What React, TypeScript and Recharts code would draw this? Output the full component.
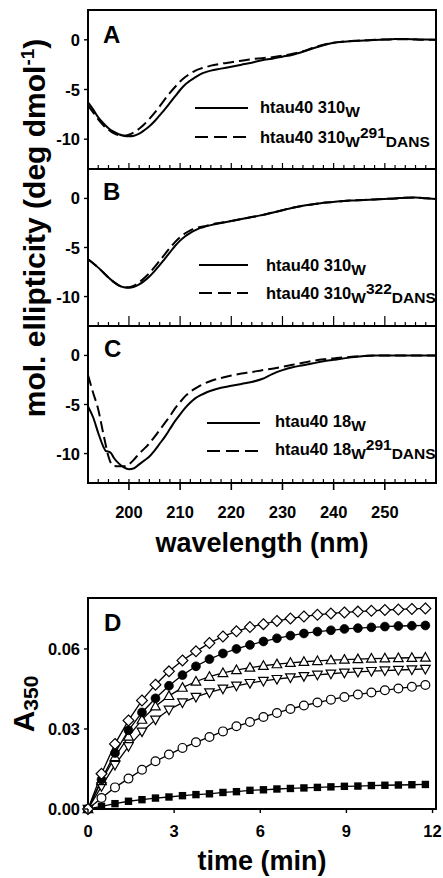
import React from 'react';
import { LineChart, Line, XAxis, YAxis, ReferenceArea } from 'recharts';

const FONT = "'Liberation Sans', Arial, Helvetica, sans-serif";
const W = 443;
const H = 878;

// ---------- CD spectra (panels A, B, C) ----------
const wavelengthsAB = [192, 193, 194, 195, 196, 197, 198, 199, 200, 201, 202, 203, 204, 205, 206, 207, 208, 209, 210, 211, 212, 213, 214, 215, 216,
  218, 220, 222, 224, 226, 228, 230, 232, 234, 236, 238, 240, 242, 244, 246, 248, 250, 252, 254, 256, 258, 260];

const panelA_310W = [-6.3, -7.0, -7.8, -8.4, -8.9, -9.25, -9.5, -9.65, -9.7, -9.65, -9.45, -9.1, -8.7, -8.2, -7.6, -7.0, -6.35, -5.7, -5.05, -4.5, -4.1, -3.75, -3.45, -3.25, -3.1,
  -2.9, -2.7, -2.5, -2.3, -2.05, -1.9, -1.7, -1.5, -1.2, -0.85, -0.55, -0.3, -0.2, -0.12, -0.08, -0.02, 0.02, 0.07, 0.08, 0.05, 0.02, 0];
const panelA_310W291DANS = [-6.6, -7.3, -8.0, -8.6, -9.05, -9.4, -9.6, -9.65, -9.55, -9.3, -8.95, -8.5, -7.95, -7.35, -6.7, -6.0, -5.35, -4.75, -4.2, -3.75, -3.4, -3.1, -2.9, -2.75, -2.6,
  -2.4, -2.25, -2.1, -1.95, -1.85, -1.75, -1.6, -1.4, -1.15, -0.8, -0.5, -0.3, -0.18, -0.1, -0.05, 0, 0.03, 0.05, 0.05, 0.03, 0, 0];

const panelB_310W = [-6.2, -6.6, -7.05, -7.55, -8.05, -8.5, -8.85, -9.05, -9.1, -9.0, -8.75, -8.4, -7.95, -7.4, -6.8, -6.15, -5.5, -4.85, -4.3, -3.85, -3.5, -3.22, -3.0, -2.85, -2.72,
  -2.5, -2.3, -2.1, -1.9, -1.7, -1.45, -1.2, -0.95, -0.75, -0.6, -0.45, -0.35, -0.25, -0.2, -0.15, -0.1, -0.05, 0, 0.08, 0.1, 0.02, -0.05];
const panelB_310W322DANS = [-6.2, -6.6, -7.05, -7.55, -8.05, -8.5, -8.85, -9.05, -9.05, -8.9, -8.55, -8.1, -7.6, -7.0, -6.35, -5.7, -5.05, -4.45, -3.95, -3.55, -3.25, -3.05, -2.9, -2.8, -2.65,
  -2.48, -2.3, -2.1, -1.9, -1.7, -1.45, -1.2, -0.95, -0.75, -0.6, -0.45, -0.35, -0.25, -0.2, -0.15, -0.1, -0.05, 0, 0.07, 0.09, 0.02, -0.05];

const wavelengthsC = [192, 193, 194, 195, 195.5, 196, 196.5, 197, 198, 199, 200, 201, 202, 203, 204, 205, 206, 207, 208, 209, 210, 211, 212, 213, 214, 215, 216,
  218, 220, 222, 224, 226, 228, 230, 232, 234, 236, 238, 240, 242, 244, 246, 248, 250, 252, 254, 256, 258, 260];

const panelC_18W = [-5.2, -6.3, -7.9, -9.3, -9.75, -9.8, -9.95, -10.4, -11.0, -11.4, -11.6, -11.5, -11.1, -10.7, -10.3, -9.7, -9.0, -8.3, -7.5, -6.7, -6.0, -5.35, -4.8, -4.35, -4.05, -3.8, -3.6,
  -3.3, -3.1, -2.9, -2.7, -2.4, -1.9, -1.5, -1.2, -1.0, -0.8, -0.6, -0.45, -0.3, -0.15, -0.05, 0, 0, 0, 0, 0, 0, 0];
const panelC_18W291DANS = [-2.0, -3.8, -5.5, -8.0, -9.2, -10.3, -11.0, -11.25, -11.3, -11.3, -11.1, -10.6, -10.0, -9.5, -8.95, -8.3, -7.6, -6.9, -6.2, -5.4, -4.75, -4.15, -3.7, -3.35, -3.05, -2.8, -2.6,
  -2.3, -2.05, -1.85, -1.7, -1.5, -1.35, -1.15, -0.95, -0.75, -0.55, -0.4, -0.3, -0.2, -0.12, -0.05, 0, 0, 0, 0, 0, 0, 0];

const cdXTicks = [192, 194, 196, 198, 200, 202, 204, 206, 208, 210, 212, 214, 216, 218, 220, 222, 224, 226, 228, 230,
  232, 234, 236, 238, 240, 242, 244, 246, 248, 250, 252, 254, 256, 258, 260];
const cdYTicks = [-10, -5, 0];

// ---------- Turbidity kinetics (panel D) ----------
const timeMin = [0, 0.47, 0.94, 1.41, 1.88, 2.35, 2.82, 3.29, 3.76, 4.23, 4.7, 5.17, 5.64, 6.11, 6.58, 7.05, 7.52, 7.99, 8.46, 8.93, 9.4, 9.87, 10.34, 10.81, 11.28, 11.75];
const seriesDiamond = [0, 0.0132, 0.0244, 0.0332, 0.0407, 0.0466, 0.0516, 0.0557, 0.0591, 0.0622, 0.0647, 0.0666, 0.0682, 0.0693, 0.0705, 0.0714, 0.0722, 0.0728, 0.0733, 0.0737, 0.074, 0.0743, 0.0746, 0.0748, 0.075, 0.0752];
const seriesFilledCircle = [0, 0.011, 0.021, 0.0295, 0.0362, 0.0415, 0.0462, 0.0502, 0.0535, 0.0562, 0.0583, 0.06, 0.0615, 0.0628, 0.064, 0.065, 0.0658, 0.0665, 0.067, 0.0675, 0.0678, 0.0681, 0.0684, 0.0686, 0.0687, 0.0688];
const seriesUpTriangle = [0, 0.0105, 0.0195, 0.0272, 0.0335, 0.0385, 0.0424, 0.0455, 0.0478, 0.0496, 0.051, 0.0521, 0.053, 0.0537, 0.0543, 0.0548, 0.0552, 0.0555, 0.0558, 0.056, 0.0562, 0.0564, 0.0565, 0.0566, 0.0567, 0.0568];
const seriesDownTriangle = [0, 0.0085, 0.0165, 0.0235, 0.029, 0.0335, 0.0372, 0.0399, 0.042, 0.0437, 0.0451, 0.0462, 0.0472, 0.048, 0.0487, 0.0493, 0.0498, 0.0503, 0.0507, 0.0511, 0.0514, 0.0517, 0.0519, 0.0521, 0.0523, 0.0525];
const seriesOpenCircle = [0, 0.0041, 0.0081, 0.0114, 0.0147, 0.0179, 0.0204, 0.0229, 0.025, 0.027, 0.0291, 0.031, 0.0326, 0.0345, 0.036, 0.0375, 0.0388, 0.0399, 0.041, 0.042, 0.0429, 0.0437, 0.0445, 0.0452, 0.0458, 0.0465];
const seriesSquare = [0, 0.001, 0.002, 0.0029, 0.0035, 0.0041, 0.0045, 0.005, 0.0054, 0.0057, 0.0062, 0.0065, 0.007, 0.0072, 0.0075, 0.0077, 0.0079, 0.0081, 0.0083, 0.0085, 0.0086, 0.0088, 0.0089, 0.009, 0.0091, 0.0092];
const timeTicks = [0, 3, 6, 9, 12];
const absTicks = [0, 0.03, 0.06];

// ---------- data tables ----------
const rowsA = wavelengthsAB.map((x, i) => ({ x, s: panelA_310W[i], d: panelA_310W291DANS[i] }));
const rowsB = wavelengthsAB.map((x, i) => ({ x, s: panelB_310W[i], d: panelB_310W322DANS[i] }));
const rowsC = wavelengthsC.map((x, i) => ({ x, s: panelC_18W[i], d: panelC_18W291DANS[i] }));
const rowsD = timeMin.map((t, i) => ({
  t,
  dia: seriesDiamond[i],
  fc: seriesFilledCircle[i],
  ut: seriesUpTriangle[i],
  dt: seriesDownTriangle[i],
  oc: seriesOpenCircle[i],
  sq: seriesSquare[i],
}));

const TICK_FONT = 16.5;

// ---------- tick renderers ----------
const makeCdXTick = (mode: 'A' | 'B' | 'C') => (props: any) => {
  const { x, y, payload, index } = props;
  const v = payload.value;
  const major = v % 10 === 0 && v > 192 && v < 260;
  const inner = mode === 'B' ? (major ? 10 : 4) : mode === 'A' ? (major ? 6 : 4) : 4;
  return (
    <g key={`t${mode}${index}`}>
      <line x1={x} x2={x} y1={y} y2={y - inner} stroke="#000" strokeWidth={1.2} />
      {mode === 'C' && major ? (
        <>
          <line x1={x} x2={x} y1={y} y2={y + 7} stroke="#000" strokeWidth={1.6} />
          <text x={x} y={y + 35} textAnchor="middle" fontFamily={FONT} fontWeight="bold" fontSize={TICK_FONT} fill="#000">{v}</text>
        </>
      ) : null}
    </g>
  );
};

const makeYTick = (fmt: (v: number) => string) => (props: any) => {
  const { x, y, payload, index } = props;
  return (
    <g key={`y${index}`}>
      <line x1={x - 4} x2={x} y1={y} y2={y} stroke="#000" strokeWidth={1.4} />
      <text x={x - 8} y={y + 6} textAnchor="end" fontFamily={FONT} fontWeight="bold" fontSize={TICK_FONT} fill="#000">{fmt(payload.value)}</text>
    </g>
  );
};

const DTick = (props: any) => {
  const { x, y, payload, index } = props;
  return (
    <g key={`dx${index}`}>
      <line x1={x} x2={x} y1={y} y2={y + 4} stroke="#000" strokeWidth={1.4} />
      <text x={x} y={y + 28} textAnchor="middle" fontFamily={FONT} fontWeight="bold" fontSize={TICK_FONT} fill="#000">{payload.value}</text>
    </g>
  );
};

// ---------- markers ----------
const ok = (p: any) => p && typeof p.cx === 'number' && typeof p.cy === 'number';
const dotDiamond = (p: any) => {
  if (!ok(p)) return <g key={`dm${p.index}`} />;
  const r = 5.4;
  const { cx, cy } = p;
  return <path key={`dm${p.index}`} d={`M${cx},${cy - r}L${cx + r},${cy}L${cx},${cy + r}L${cx - r},${cy}Z`} fill="#fff" stroke="#000" strokeWidth={1.2} />;
};
const dotFilledCircle = (p: any) => {
  if (!ok(p)) return <g key={`fc${p.index}`} />;
  return <circle key={`fc${p.index}`} cx={p.cx} cy={p.cy} r={4.4} fill="#000" stroke="#000" strokeWidth={0.8} />;
};
const dotOpenCircle = (p: any) => {
  if (!ok(p)) return <g key={`oc${p.index}`} />;
  return <circle key={`oc${p.index}`} cx={p.cx} cy={p.cy} r={4.4} fill="#fff" stroke="#000" strokeWidth={1.2} />;
};
const dotUpTriangle = (p: any) => {
  if (!ok(p)) return <g key={`ut${p.index}`} />;
  const { cx, cy } = p;
  return <path key={`ut${p.index}`} d={`M${cx},${cy - 5}L${cx + 4.8},${cy + 3.6}L${cx - 4.8},${cy + 3.6}Z`} fill="#fff" stroke="#000" strokeWidth={1.2} />;
};
const dotDownTriangle = (p: any) => {
  if (!ok(p)) return <g key={`dt${p.index}`} />;
  const { cx, cy } = p;
  return <path key={`dt${p.index}`} d={`M${cx},${cy + 5}L${cx + 4.8},${cy - 3.6}L${cx - 4.8},${cy - 3.6}Z`} fill="#fff" stroke="#000" strokeWidth={1.2} />;
};
const dotSquare = (p: any) => {
  if (!ok(p)) return <g key={`sq${p.index}`} />;
  return <rect key={`sq${p.index}`} x={p.cx - 3.7} y={p.cy - 3.7} width={7.4} height={7.4} fill="#000" />;
};

const DASH = '11 5';

function CdPanel({ rows, top, bottom, mode }: { rows: any[]; top: number; bottom: number; mode: 'A' | 'B' | 'C' }) {
  return (
    <div style={{ position: 'absolute', left: 0, top: 0 }}>
      <LineChart width={W} height={H} data={rows} margin={{ top, right: 7, bottom: H - bottom - 20, left: 0 }}>
        <XAxis type="number" dataKey="x" domain={[192, 260]} ticks={cdXTicks} interval={0} height={20}
          axisLine={false} tickLine={false} tickSize={0} tickMargin={0} tick={makeCdXTick(mode)} />
        <YAxis type="number" domain={[-13, 3]} ticks={cdYTicks} interval={0} width={88}
          axisLine={false} tickLine={false} tickSize={0} tickMargin={0} tick={makeYTick((v) => String(v))} />
        <ReferenceArea x1={192} x2={260} y1={-13} y2={3} fill="none" stroke="#000" strokeWidth={2} />
        <Line type="monotone" dataKey="s" stroke="#000" strokeWidth={2} dot={false} isAnimationActive={false} />
        <Line type="monotone" dataKey="d" stroke="#000" strokeWidth={2} strokeDasharray={DASH} dot={false} isAnimationActive={false} />
      </LineChart>
    </div>
  );
}

function KineticsPanel() {
  const top = 598;
  const bottom = 809;
  return (
    <div style={{ position: 'absolute', left: 0, top: 0 }}>
      <LineChart width={W} height={H} data={rowsD} margin={{ top, right: 7, bottom: H - bottom - 20, left: 0 }}>
        <XAxis type="number" dataKey="t" domain={[0, 12.12]} ticks={timeTicks} interval={0} height={20}
          axisLine={false} tickLine={false} tickSize={0} tickMargin={0} tick={DTick} />
        <YAxis type="number" domain={[0, 0.0791]} ticks={absTicks} interval={0} width={88}
          axisLine={false} tickLine={false} tickSize={0} tickMargin={0} tick={makeYTick((v) => v.toFixed(2))} />
        <ReferenceArea x1={0} x2={12.12} y1={0} y2={0.0791} fill="none" stroke="#000" strokeWidth={2} />
        <Line type="linear" dataKey="sq" stroke="#000" strokeWidth={1.3} dot={dotSquare} isAnimationActive={false} />
        <Line type="linear" dataKey="oc" stroke="#000" strokeWidth={1.3} dot={dotOpenCircle} isAnimationActive={false} />
        <Line type="linear" dataKey="dt" stroke="#000" strokeWidth={1.3} dot={dotDownTriangle} isAnimationActive={false} />
        <Line type="linear" dataKey="ut" stroke="#000" strokeWidth={1.3} dot={dotUpTriangle} isAnimationActive={false} />
        <Line type="linear" dataKey="fc" stroke="#000" strokeWidth={1.3} dot={dotFilledCircle} isAnimationActive={false} />
        <Line type="linear" dataKey="dia" stroke="#000" strokeWidth={1.3} dot={dotDiamond} isAnimationActive={false} />
      </LineChart>
    </div>
  );
}

const LEG = 16.5;
const LEG_SUB = 15.5;

function LegendEntry({ x1, x2, y, dashed, tx, ty, base, sub, sup, sub2 }: any) {
  return (
    <g>
      <line x1={x1} x2={x2} y1={y} y2={y} stroke="#000" strokeWidth={2} strokeDasharray={dashed ? '13 6' : undefined} />
      <text x={tx} y={ty} fontFamily={FONT} fontWeight="bold" fontSize={LEG} fill="#000">
        {base}
        <tspan dy={4} fontSize={LEG_SUB}>{sub}</tspan>
        {sup ? <tspan dy={-9} fontSize={LEG_SUB}>{sup}</tspan> : null}
        {sub2 ? <tspan dy={9} fontSize={LEG_SUB}>{sub2}</tspan> : null}
      </text>
    </g>
  );
}

function Overlay() {
  const t = { fontFamily: FONT, fontWeight: 'bold' as const, fill: '#000' };
  return (
    <svg width={W} height={H} style={{ position: 'absolute', left: 0, top: 0, pointerEvents: 'none' }}>
      {/* panel letters */}
      <text x={103} y={43} fontSize={24} {...t}>A</text>
      <text x={103} y={200} fontSize={24} {...t}>B</text>
      <text x={104} y={357} fontSize={24} {...t}>C</text>
      <text x={104} y={631} fontSize={24} {...t}>D</text>

      {/* legends */}
      <LegendEntry x1={195} x2={248} y={108} tx={260} ty={113} base="htau40 310" sub="W" />
      <LegendEntry x1={195} x2={248} y={137} dashed tx={260} ty={143} base="htau40 310" sub="W" sup="291" sub2="DANS" />
      <LegendEntry x1={199} x2={248} y={265} tx={266} ty={271} base="htau40 310" sub="W" />
      <LegendEntry x1={199} x2={248} y={293} dashed tx={266} ty={299} base="htau40 310" sub="W" sup="322" sub2="DANS" />
      <LegendEntry x1={207} x2={260} y={423} tx={275} ty={427} base="htau40 18" sub="W" />
      <LegendEntry x1={207} x2={258} y={451} dashed tx={275} ty={455} base="htau40 18" sub="W" sup="291" sub2="DANS" />

      {/* axis titles */}
      <text transform="translate(45,228) rotate(-90)" textAnchor="middle" fontSize={30} {...t}>
        mol. ellipticity (deg dmol<tspan dy={-11} fontSize={19}>-1</tspan><tspan dy={11}>)</tspan>
      </text>
      <text x={262} y={552} textAnchor="middle" fontSize={27} {...t}>wavelength (nm)</text>
      <text transform="translate(34,704) rotate(-90)" textAnchor="middle" fontSize={30} {...t}>
        A<tspan dy={4} fontSize={21}>350</tspan>
      </text>
      <text x={262} y={870} textAnchor="middle" fontSize={27} {...t}>time (min)</text>
    </svg>
  );
}

export default function App() {
  return (
    <div style={{ position: 'absolute', left: 0, top: 0, width: W, height: H, background: '#fff', overflow: 'hidden' }}>
      <CdPanel rows={rowsA} top={10} bottom={169} mode="A" />
      <CdPanel rows={rowsB} top={169} bottom={326} mode="B" />
      <CdPanel rows={rowsC} top={326} bottom={483} mode="C" />
      <KineticsPanel />
      <Overlay />
    </div>
  );
}
